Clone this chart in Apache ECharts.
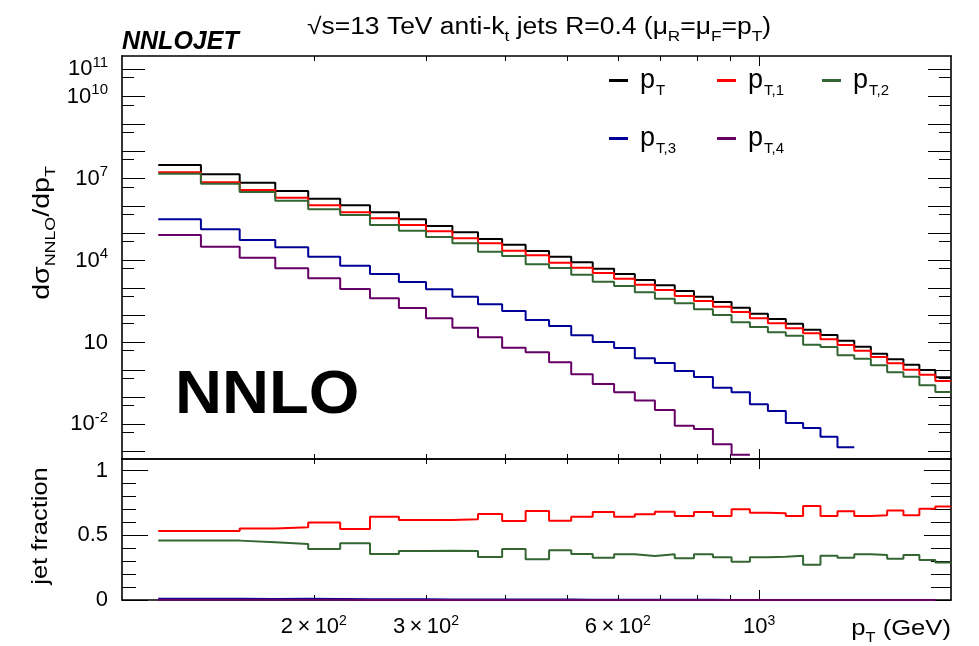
<!DOCTYPE html>
<html><head><meta charset="utf-8">
<script src="https://cdn.jsdelivr.net/npm/echarts@6/dist/echarts.min.js"></script>
<style>html,body{margin:0;padding:0;background:#fff}#c{width:979px;height:646px}</style>
</head><body><div id="c"></div>
<script>
const FONT = '"Liberation Sans", Arial, Helvetica, sans-serif';

// bin edges of the pT histograms (GeV)
const binEdges = [114,133,153,174,196,220,245,272,300,330,362,395,430,468,507,548,592,638,686,737,790,846,905,967,1032,1101,1172,1248,1327,1410,1497,1588,1684,1784,1890,2000];

// dsigma/dpT per bin
const sigmaPT  = [3.14e7,1.43e7,7.06e6,3.51e6,1.83e6,1.05e6,5.82e5,3.23e5,1.83e5,1.08e5,6.13e4,3.79e4,2.23e4,1.38e4,8.59e3,5.01e3,3.21e3,1.93e3,1.24e3,764,473,302,187,113,72.1,48.5,29.2,18.7,11.6,6.98,3.86,2.41,1.53,0.98,0.528];
const sigmaPT1 = [1.70e7,7.30e6,3.81e6,2.00e6,1.05e6,5.82e5,3.51e5,2.00e5,1.17e5,6.50e4,4.27e4,2.29e4,1.55e4,8.30e3,5.45e3,3.48e3,2.16e3,1.30e3,832,501,329,203,130,76.5,50.2,32.9,21.6,13.0,8.05,4.98,2.93,1.72,1.00,0.659,0.387];
const sigmaPT2 = [1.51e7,6.49e6,3.22e6,1.55e6,7.50e5,4.63e5,2.00e5,1.23e5,7.26e4,4.27e4,2.10e4,1.46e4,7.26e3,5.31e3,3.02e3,1.67e3,1.16e3,685,399,271,163,101,54.6,36.7,23.5,17.6,8.26,6.81,3.38,2.54,1.46,0.805,0.556,0.269,0.153];
const sigmaPT3 = [3.23e5,1.39e5,5.64e4,3.04e4,1.38e4,6.45e3,3.21e3,1.63e3,883,473,249,142,66.2,40.0,18.2,10.4,6.25,2.62,1.77,0.90,0.542,0.220,0.149,0.0543,0.0308,0.0112,0.00736,0.00353,0.00145];
const sigmaPT4 = [8.59e4,3.20e4,1.27e4,5.18e3,2.23e3,904,413,182,76.5,34.6,15.4,6.41,4.35,1.87,0.681,0.301,0.149,0.0748,0.0336,0.00893,0.00676,0.00186,0.000774];

// jet fractions per bin
const fracPT1 = [0.533,0.533,0.552,0.562,0.600,0.549,0.644,0.619,0.619,0.624,0.665,0.611,0.688,0.613,0.644,0.681,0.644,0.662,0.683,0.650,0.681,0.650,0.701,0.675,0.670,0.650,0.727,0.650,0.686,0.650,0.655,0.691,0.655,0.706,0.722];
const fracPT2 = [0.459,0.459,0.446,0.433,0.394,0.438,0.356,0.379,0.381,0.379,0.333,0.394,0.315,0.384,0.356,0.327,0.353,0.341,0.353,0.322,0.353,0.330,0.296,0.330,0.335,0.343,0.273,0.343,0.327,0.353,0.348,0.319,0.348,0.309,0.289];
const fracPT3 = [0.010,0.0097,0.008,0.0087,0.0075,0.0061,0.0055,0.005,0.0048,0.0044,0.0041,0.0037,0.003,0.0029,0.0021,0.0021,0.0019,0.0014,0.0014,0.0012,0.0011,0.0007,0.0008,0.0005,0.0004,0.0002,0.0003,0.0002,0.0001,0,0,0,0,0];
const fracPT4 = [0.0027,0.0022,0.0018,0.0015,0.0012,0.0009,0.0007,0.0006,0.0004,0.0003,0.00025,0.00017,0.0002,0.00014,0.00008,0.00006,0.00005,0.00004,0.00003,0.00001,0.00001,0.00001,0,0,0,0,0,0,0,0,0,0,0,0];

// axis ticks / labels
const xTickValues = [200,300,400,500,600,700,800,900];
const xLongTick = [1000];
const xLabelValues = [200,300,600,1000];
const yMajorTicks = [1e-3,1e-2,1e-1,1,10,100,1e3,1e4,1e5,1e6,1e7,1e8,1e9,1e10,1e11];
const yLabelValues = [1e-2,10,1e4,1e7,1e10,1e11];
const yShortTicks = [5e-4,5e-3,5e-2,0.5,5,50,500,5e3,5e4,5e5,5e6,5e7,5e8,5e9,5e10];
const fracMajorTicks = [0,0.5,1];
const fracMinorTicks = [0.1,0.2,0.3,0.4,0.6,0.7,0.8,0.9];

const names = ['pT','pT1','pT2','pT3','pT4'];
const colors = ['#000000','#ff0000','#336633','#000099','#660066'];
const subText = {pT:'T', pT1:'T,1', pT2:'T,2', pT3:'T,3', pT4:'T,4'};

function stepData(vals){
  const d = [];
  vals.forEach((v,i)=>{ d.push([binEdges[i], v]); d.push([binEdges[i+1], v]); });
  return d;
}

const Y_MIN = 5.41e-4, Y_MAX = 3.07e11;
const G_TOP = {left:122, right:28, top:56, height:403};
const G_BOT = {left:122, right:28, top:459, height:141};

const supRich = {
  b:{fontSize:22, fontFamily:FONT, color:'#000', verticalAlign:'bottom', lineHeight:22},
  s:{fontSize:15, fontFamily:FONT, color:'#000', verticalAlign:'bottom', lineHeight:15, padding:[0,0,10,0]}
};
const xSupRich = {
  b:{fontSize:22, fontFamily:FONT, color:'#000', verticalAlign:'bottom', lineHeight:22},
  s:{fontSize:14, fontFamily:FONT, color:'#000', verticalAlign:'bottom', lineHeight:14, padding:[0,0,10,0]}
};

function xAxisBase(gridIndex, position, ticks, len, showLine, labels){
  return {
    type:'log', logBase:10, min:100, max:2000, gridIndex, position,
    axisLine:{show:showLine, onZero:false, lineStyle:{color:'#000', width:1.6}},
    axisTick:{show:true, inside:true, length:len, customValues:ticks, lineStyle:{color:'#000', width:1}},
    axisLabel: labels ? {
      show:true, customValues:xLabelValues, margin:16, color:'#000',
      formatter:(v)=>{ const e=Math.floor(Math.log10(v)+1e-9); const m=Math.round(v/Math.pow(10,e)); return m===1 ? '{b|10}{s|'+e+'}' : '{b|'+m+'\u2009×\u200910}{s|'+e+'}'; },
      rich:xSupRich
    } : {show:false},
    splitLine:{show:false}, minorTick:{show:false}
  };
}

const xAxes = [
  xAxisBase(0,'bottom',xTickValues,5,true,false),
  xAxisBase(0,'top',xTickValues,5,true,false),
  xAxisBase(1,'bottom',xTickValues,5,true,true),
  xAxisBase(1,'top',xTickValues,5,true,false),
  xAxisBase(2,'bottom',xLongTick,10,false,false),
  xAxisBase(2,'top',xLongTick,10,false,false),
  xAxisBase(3,'bottom',xLongTick,10,false,false),
  xAxisBase(3,'top',xLongTick,10,false,false)
];

function yLogAxis(gridIndex, position, ticks, len, showLine, labels){
  return { type:'log', logBase:10, min:Y_MIN, max:Y_MAX, gridIndex, position,
    axisLine:{show:showLine, lineStyle:{color:'#000', width:1.6}},
    axisTick:{show:true, inside:true, length:len, customValues:ticks, lineStyle:{color:'#000', width:1}},
    axisLabel: labels ? {show:true, customValues:yLabelValues, margin:14, color:'#000',
      formatter:(v)=>{ const e=Math.round(Math.log10(v)); return e===1 ? '{b|10}' : '{b|10}{s|'+e+'}'; },
      rich:supRich} : {show:false},
    splitLine:{show:false}, minorTick:{show:false} };
}
function yFracAxis(gridIndex, position, ticks, len, showLine, labels){
  return { type:'value', min:0, max:1.09, gridIndex, position,
    axisLine:{show:showLine, lineStyle:{color:'#000', width:1.6}},
    axisTick:{show:true, inside:true, length:len, customValues:ticks, lineStyle:{color:'#000', width:1}},
    axisLabel: labels ? {show:true, customValues:fracMajorTicks, margin:14, color:'#000', fontSize:22, fontFamily:FONT, formatter:(v)=>String(v)} : {show:false},
    splitLine:{show:false} };
}

const yAxes = [
  yLogAxis(0,'left',yMajorTicks,23,true,true),
  yLogAxis(0,'right',yMajorTicks,23,true,false),
  yLogAxis(2,'left',yShortTicks,12,false,false),
  yLogAxis(2,'right',yShortTicks,12,false,false),
  yFracAxis(1,'left',fracMajorTicks,26,true,true),
  yFracAxis(1,'right',fracMajorTicks,27,true,false),
  yFracAxis(3,'left',fracMinorTicks,14,false,false),
  yFracAxis(3,'right',fracMinorTicks,20,false,false)
];

const topVals = [sigmaPT, sigmaPT1, sigmaPT2, sigmaPT3, sigmaPT4];
const fracVals = [null, fracPT1, fracPT2, fracPT3, fracPT4];
const drawOrder = [0,2,3,4,1];
const series = [];
drawOrder.forEach(i=>{
  series.push({ name:names[i], type:'line', xAxisIndex:0, yAxisIndex:0, data:stepData(topVals[i]),
    showSymbol:false, symbol:'none', lineStyle:{color:colors[i], width:2}, itemStyle:{color:colors[i]}, z:2+i, silent:true });
});
[4,3,2,1].forEach(i=>{
  series.push({ name:names[i], type:'line', xAxisIndex:2, yAxisIndex:4, data:stepData(fracVals[i]),
    showSymbol:false, symbol:'none', lineStyle:{color:colors[i], width:2}, itemStyle:{color:colors[i]}, z:2+i, silent:true });
});

const legendRich = {
  p:{fontSize:27, fontFamily:FONT, color:'#000', verticalAlign:'top', lineHeight:27, padding:[0,0,0,7]},
  s:{fontSize:15, fontFamily:FONT, color:'#000', verticalAlign:'top', lineHeight:15, padding:[16,0,0,1]}
};
function legendCfg(name, left, top){
  return { data:[name], left, top, orient:'horizontal', padding:0, itemGap:0, itemWidth:19, itemHeight:3, icon:'rect',
    selectedMode:false,
    formatter:(n)=>'{p|p}{s|'+subText[n]+'}',
    textStyle:{rich:legendRich} };
}

const titleRich = {
  a:{fontSize:23, fontFamily:FONT, color:'#000', verticalAlign:'top', lineHeight:24},
  s:{fontSize:15, fontFamily:FONT, color:'#000', verticalAlign:'top', lineHeight:15, padding:[13,0,0,0]}
};

const option = {
  animation:false,
  backgroundColor:'#fff',
  grid:[
    Object.assign({show:false}, G_TOP),
    Object.assign({show:false}, G_BOT),
    Object.assign({show:false}, G_TOP),
    Object.assign({show:false}, G_BOT)
  ],
  xAxis:xAxes, yAxis:yAxes, series,
  legend:[
    legendCfg('pT', 609, 67), legendCfg('pT1', 717, 67), legendCfg('pT2', 822, 67),
    legendCfg('pT3', 609, 125), legendCfg('pT4', 717, 125)
  ],
  graphic:[
    { type:'text', x:539, y:16, scaleX:1.15, style:{ text:'{a|√s=13 TeV anti-k}{s|t}{a| jets R=0.4 (μ}{s|R}{a|=μ}{s|F}{a|=p}{s|T}{a|)}', rich:titleRich, textAlign:'center', textVerticalAlign:'top' } },
    { type:'text', x:122, y:42, style:{ text:'NNLOJET', font:'italic bold 25px '+FONT, fill:'#000', textAlign:'left', textVerticalAlign:'middle' } },
    { type:'text', x:175, y:396, scaleX:1.05, style:{ text:'NNLO', font:'bold 62px '+FONT, fill:'#000', textAlign:'left', textVerticalAlign:'middle' } },
    { type:'text', x:42, y:233, rotation:Math.PI/2, scaleX:1.19, style:{ text:'{a|dσ}{s|NNLO}{a|/dp}{s|T}', rich:{
        a:{fontSize:24, fontFamily:FONT, color:'#000', verticalAlign:'top', lineHeight:24},
        s:{fontSize:15, fontFamily:FONT, color:'#000', verticalAlign:'top', lineHeight:15, padding:[13,0,0,0]} }, textAlign:'center', textVerticalAlign:'middle' } },
    { type:'text', x:41, y:526, rotation:Math.PI/2, scaleX:1.157, style:{ text:'jet fraction', font:'22px '+FONT, fill:'#000', textAlign:'center', textVerticalAlign:'middle' } },
    { type:'text', x:951, y:618, scaleX:1.165, style:{ text:'{a|p}{s|T}{a| (GeV)}', rich:{
        a:{fontSize:22, fontFamily:FONT, color:'#000', verticalAlign:'top', lineHeight:22},
        s:{fontSize:14, fontFamily:FONT, color:'#000', verticalAlign:'top', lineHeight:14, padding:[13,0,0,0]} }, textAlign:'right', textVerticalAlign:'top' } }
  ]
};

const chart = echarts.init(document.getElementById('c'), null, {renderer:'canvas'});
chart.setOption(option);
</script>
</body></html>
